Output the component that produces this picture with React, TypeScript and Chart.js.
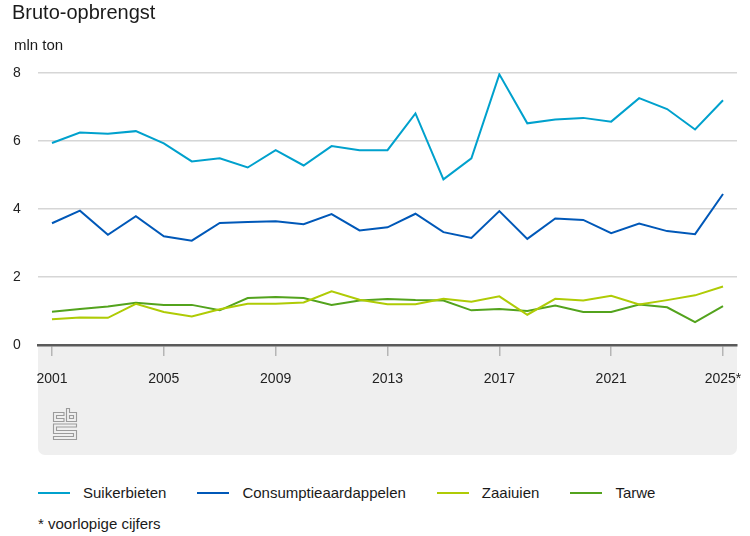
import React, { useEffect, useRef } from "react";
import { Chart, registerables } from "chart.js";

Chart.register(...registerables);

const years = [2001, 2002, 2003, 2004, 2005, 2006, 2007, 2008, 2009, 2010, 2011, 2012, 2013, 2014, 2015, 2016, 2017, 2018, 2019, 2020, 2021, 2022, 2023, 2024, 2025];
const suikerbieten = [5.94, 6.25, 6.21, 6.29, 5.93, 5.4, 5.49, 5.22, 5.73, 5.28, 5.85, 5.73, 5.73, 6.81, 4.87, 5.49, 7.96, 6.52, 6.63, 6.68, 6.57, 7.26, 6.94, 6.34, 7.2];
const consumptieaardappelen = [3.58, 3.95, 3.24, 3.79, 3.2, 3.07, 3.59, 3.62, 3.64, 3.55, 3.85, 3.37, 3.46, 3.86, 3.32, 3.15, 3.94, 3.12, 3.72, 3.68, 3.29, 3.57, 3.35, 3.26, 4.44];
const zaaiuien = [0.76, 0.81, 0.8, 1.21, 0.97, 0.84, 1.05, 1.21, 1.21, 1.25, 1.58, 1.33, 1.2, 1.2, 1.36, 1.27, 1.43, 0.89, 1.36, 1.31, 1.45, 1.19, 1.32, 1.46, 1.72];
const tarwe = [0.98, 1.06, 1.13, 1.24, 1.18, 1.18, 1.02, 1.38, 1.41, 1.38, 1.18, 1.31, 1.35, 1.32, 1.31, 1.02, 1.06, 1.0, 1.16, 0.97, 0.97, 1.19, 1.11, 0.67, 1.14];

const seriesNames = ["Suikerbieten", "Consumptieaardappelen", "Zaaiuien", "Tarwe"];
const seriesColors = ["#00A1CD", "#0058B8", "#AFCB05", "#53A31D"];
const seriesValues = [suikerbieten, consumptieaardappelen, zaaiuien, tarwe];

const yTicks = [0, 2, 4, 6, 8];
const xTickYears = [2001, 2005, 2009, 2013, 2017, 2021, 2025];
const xTickLabels = ["2001", "2005", "2009", "2013", "2017", "2021", "2025*"];

const FONT = "'Liberation Sans', Arial, Helvetica, sans-serif";

const panelPlugin = {
  id: "panel",
  beforeDraw(chart: any) {
    const { ctx, chartArea } = chart;
    const x0 = chartArea.left;
    const x1 = chartArea.right;
    const y0 = chartArea.bottom;
    const y1 = 455;
    ctx.save();
    ctx.fillStyle = "#efefef";
    ctx.beginPath();
    if (ctx.roundRect) ctx.roundRect(x0, y0, x1 - x0, y1 - y0, [0, 0, 7, 7]);
    else ctx.rect(x0, y0, x1 - x0, y1 - y0);
    ctx.fill();

    // cbs logo
    const lx = 53.5;
    const ly = 408.5;
    ctx.strokeStyle = "#9b9b9b";
    ctx.lineWidth = 1.1;
    const poly = (pts: number[][]) => {
      ctx.beginPath();
      pts.forEach((p, i) => (i === 0 ? ctx.moveTo(lx + p[0], ly + p[1]) : ctx.lineTo(lx + p[0], ly + p[1])));
      ctx.closePath();
      ctx.stroke();
    };
    poly([[0, 4], [10.5, 4], [10.5, 7], [3, 7], [3, 10], [10.5, 10], [10.5, 13], [0, 13]]);
    poly([[13, 0], [16, 0], [16, 4], [23, 4], [23, 13], [13, 13]]);
    poly([[16, 7], [20, 7], [20, 10], [16, 10]]);
    poly([[0, 15.5], [23, 15.5], [23, 18.5], [3, 18.5], [3, 22], [23, 22], [23, 31], [0, 31], [0, 28], [20, 28], [20, 25], [0, 25]]);
    ctx.restore();
  },
};

function ChartCanvas() {
  const ref = useRef<HTMLCanvasElement | null>(null);
  useEffect(() => {
    if (!ref.current) return;
    const chart = new Chart(ref.current, {
      type: "line",
      data: {
        datasets: seriesNames.map((name, i) => ({
          label: name,
          data: years.map((yr, j) => ({ x: yr, y: seriesValues[i][j] })),
          borderColor: seriesColors[i],
          backgroundColor: seriesColors[i],
          borderWidth: 2,
          pointRadius: 0,
          tension: 0,
          fill: false,
        })),
      },
      options: {
        responsive: false,
        animation: false,
        events: [],
        layout: { padding: { top: 73, left: 13, right: 13, bottom: 0 } },
        plugins: {
          legend: { display: false },
          title: { display: false },
          tooltip: { enabled: false },
        },
        scales: {
          x: {
            type: "linear",
            min: 2000.5,
            max: 2025.5,
            afterBuildTicks: (scale: any) => {
              scale.ticks = xTickYears.map((v) => ({ value: v }));
            },
            afterFit: (scale: any) => {
              scale.height = 115;
              scale.paddingLeft = 0;
              scale.paddingRight = 0;
            },
            ticks: {
              autoSkip: false,
              maxRotation: 0,
              padding: 15,
              color: "#222",
              font: { family: FONT, size: 14 },
              callback: (v: any) => {
                const idx = xTickYears.indexOf(Number(v));
                return idx >= 0 ? xTickLabels[idx] : "";
              },
            },
            grid: {
              drawOnChartArea: false,
              drawTicks: true,
              tickLength: 11,
              color: "#b5b5b5",
              lineWidth: 1.5,
            },
            border: { display: true, color: "#5a5a5a", width: 2.5 },
          },
          y: {
            min: 0,
            max: 8,
            afterBuildTicks: (scale: any) => {
              scale.ticks = yTicks.map((v) => ({ value: v }));
            },
            afterFit: (scale: any) => {
              scale.width = 25;
            },
            ticks: {
              crossAlign: "far",
              padding: 0,
              color: "#222",
              font: { family: FONT, size: 14 },
            },
            grid: {
              drawTicks: false,
              tickLength: 0,
              color: (c: any) => (c.tick && c.tick.value === 0 ? "rgba(0,0,0,0)" : "#d6d6d6"),
              lineWidth: 1.5,
            },
            border: { display: false },
          },
        },
      },
      plugins: [panelPlugin],
    } as any);
    return () => chart.destroy();
  }, []);
  return (
    <canvas
      ref={ref}
      width={750}
      height={460}
      style={{ position: "absolute", left: 0, top: 0, width: 750, height: 460 }}
    />
  );
}

export default function App() {
  const textStyle: React.CSSProperties = { fontFamily: FONT, color: "#1a1a1a", position: "absolute", whiteSpace: "nowrap" };
  return (
    <div style={{ position: "absolute", left: 0, top: 0, width: 750, height: 536, background: "#fff", overflow: "hidden" }}>
      <ChartCanvas />
      <div style={{ ...textStyle, left: 12, top: 0, fontSize: 20, lineHeight: "24px" }}>Bruto-opbrengst</div>
      <div style={{ ...textStyle, left: 14, top: 36, fontSize: 15, lineHeight: "18px" }}>mln ton</div>
      <div style={{ ...textStyle, left: 38, top: 484, display: "flex", alignItems: "center", fontSize: 15, lineHeight: "18px" }}>
        {seriesNames.map((name, i) => (
          <div key={name} style={{ display: "flex", alignItems: "center", marginRight: 31 }}>
            <div style={{ width: 32, height: 2, background: seriesColors[i], marginRight: 13 }} />
            <span>{name}</span>
          </div>
        ))}
      </div>
      <div style={{ ...textStyle, left: 38, top: 515, fontSize: 15, lineHeight: "18px" }}>* voorlopige cijfers</div>
    </div>
  );
}
